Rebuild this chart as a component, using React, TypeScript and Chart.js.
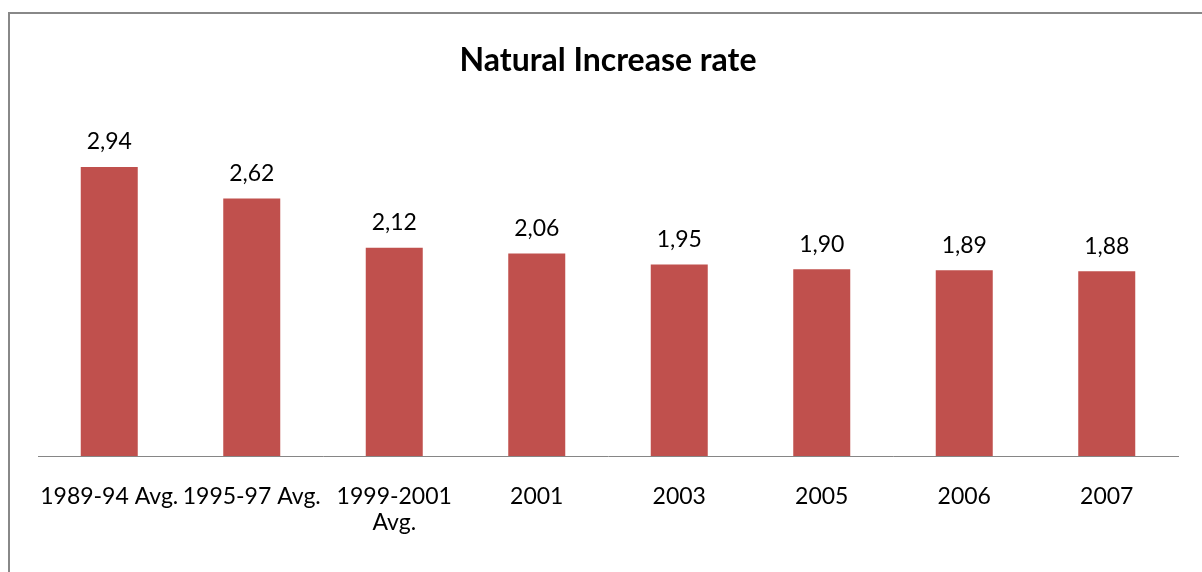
import React, { useEffect, useRef } from "react";
import { Chart, registerables } from "chart.js";

Chart.register(...registerables);

const categories: (string | string[])[] = [
  "1989-94 Avg.",
  "1995-97 Avg.",
  ["1999-2001", "Avg."],
  "2001",
  "2003",
  "2005",
  "2006",
  "2007",
];
const values: number[] = [2.94, 2.62, 2.12, 2.06, 1.95, 1.9, 1.89, 1.88];
const titleText = "Natural Increase rate";

const FONT = "Lato, 'Open Sans', sans-serif";

const framePlugin = {
  id: "frame",
  beforeDraw(chart: any) {
    const ctx = chart.ctx;
    ctx.save();
    ctx.fillStyle = "#ffffff";
    ctx.fillRect(0, 0, chart.width, chart.height);
    ctx.strokeStyle = "#888888";
    ctx.lineWidth = 2;
    ctx.beginPath();
    ctx.moveTo(9, chart.height);
    ctx.lineTo(9, 13);
    ctx.lineTo(chart.width, 13);
    ctx.stroke();
    ctx.restore();
  },
};

const valueLabelPlugin = {
  id: "valueLabels",
  afterDatasetsDraw(chart: any) {
    const ctx = chart.ctx;
    const meta = chart.getDatasetMeta(0);
    ctx.save();
    ctx.font = `23px ${FONT}`;
    ctx.fillStyle = "#000000";
    ctx.textAlign = "center";
    ctx.textBaseline = "middle";
    meta.data.forEach((bar: any, i: number) => {
      const txt = values[i].toFixed(2).replace(".", ",");
      ctx.fillText(txt, bar.x, bar.y - 25);
    });
    ctx.restore();
  },
};

export default function App() {
  const ref = useRef<HTMLCanvasElement | null>(null);
  useEffect(() => {
    document.body.style.margin = "0";
    if (!ref.current) return;
    const chart = new Chart(ref.current, {
      type: "bar",
      data: {
        labels: categories,
        datasets: [
          {
            data: values,
            backgroundColor: "#C0504D",
            borderWidth: 0,
            categoryPercentage: 1,
            barPercentage: 0.4,
          },
        ],
      },
      options: {
        animation: false,
        responsive: false,
        maintainAspectRatio: false,
        layout: { padding: { left: 38, right: 24, top: 0, bottom: 9 } },
        plugins: {
          legend: { display: false },
          tooltip: { enabled: false },
          title: {
            display: true,
            text: titleText,
            color: "#000000",
            font: { family: FONT, size: 32, weight: "bold", lineHeight: 1.2 },
            padding: { top: 41, bottom: 32.6 },
          },
        },
        scales: {
          x: {
            grid: { display: false, drawTicks: false },
            border: { display: true, color: "#868686", width: 1 },
            ticks: {
              color: "#000000",
              font: { family: FONT, size: 23, lineHeight: 1.15 },
              padding: 27,
              maxRotation: 0,
              autoSkip: false,
            },
          },
          y: {
            display: false,
            min: 0,
            max: 3.5,
          },
        },
      },
      plugins: [framePlugin, valueLabelPlugin],
    });
    return () => chart.destroy();
  }, []);
  return (
    <div style={{ position: "absolute", left: 0, top: 0, width: 1202, height: 572 }}>
      <canvas ref={ref} width={1202} height={572} style={{ display: "block" }} />
    </div>
  );
}
